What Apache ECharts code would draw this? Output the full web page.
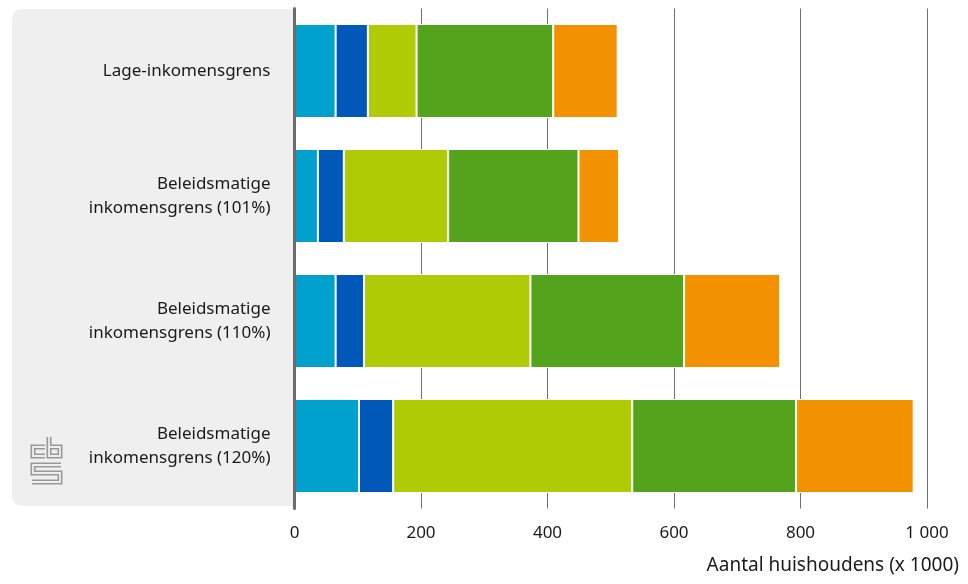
<!DOCTYPE html>
<html>
<head>
<meta charset="utf-8">
<script src="https://cdn.jsdelivr.net/npm/echarts@6/dist/echarts.min.js"></script>
<style>html,body{margin:0;padding:0;background:#fff}#c{width:968px;height:584px}</style>
</head>
<body>
<div id="c"></div>
<script>
const categories = ['Lage-inkomensgrens', 'Beleidsmatige\ninkomensgrens (101%)', 'Beleidsmatige\ninkomensgrens (110%)', 'Beleidsmatige\ninkomensgrens (120%)'];
const seriesA = [65, 37, 65, 102];
const seriesB = [51, 41, 45, 54];
const seriesC = [77, 165, 263, 378];
const seriesD = [216, 206, 243, 259];
const seriesE = [102, 64, 152, 186];
const xTicks = [0, 200, 400, 600, 800, 1000];
const axisTitle = 'Aantal huishoudens (x 1000)';

const colors = ['#00A1CD', '#0058B8', '#AFCB05', '#53A31D', '#F39200'];
const font = 'Noto Sans';
const chart = echarts.init(document.getElementById('c'), null, {renderer: 'canvas'});
const mk = (name, data, i) => ({
  name, type: 'bar', stack: 'all', data, barWidth: 94,
  itemStyle: {color: colors[i], borderColor: '#fff', borderWidth: 1},
  emphasis: {disabled: true}
});
const logoPaths = [
  [[45,447],[33,447],[33,456],[45,456]],
  [[49,437],[49,456],[60,456],[60,447],[49,447]],
  [[61,465],[33,465],[33,473],[60,473],[60,482],[32,482]]
];
const logo = [];
logoPaths.forEach(p => logo.push({type: 'polyline', shape: {points: p}, style: {stroke: '#999', lineWidth: 5, fill: null}}));
logoPaths.forEach(p => logo.push({type: 'polyline', shape: {points: p}, style: {stroke: '#EFEFEF', lineWidth: 1.8, fill: null}}));
chart.setOption({
  animation: false,
  backgroundColor: '#fff',
  textStyle: {fontFamily: font},
  graphic: [
    {type: 'rect', z: -10, shape: {x: 12, y: 9, width: 282, height: 497, r: [10, 0, 0, 10]}, style: {fill: '#EFEFEF'}},
    {type: 'group', z: -5, children: logo},
    {type: 'text', right: 9, top: 556, style: {text: axisTitle, fill: '#1a1a1a', font: '19px "' + font + '"', textAlign: 'right'}}
  ],
  grid: {left: 294.5, right: 41, top: 8.5, bottom: 75.5},
  xAxis: {
    type: 'value', min: xTicks[0], max: xTicks[xTicks.length - 1], interval: 200,
    axisLine: {show: false}, axisTick: {show: false},
    splitLine: {show: true, lineStyle: {color: '#707070', width: 1}},
    axisLabel: {color: '#1a1a1a', fontSize: 17, margin: 16, fontFamily: font,
      formatter: v => String(v).replace(/\B(?=(\d{3})+(?!\d))/g, ' ')}
  },
  yAxis: {
    type: 'category', data: categories, inverse: true, z: 5,
    axisLine: {show: true, lineStyle: {color: '#6b6b6b', width: 3}},
    axisTick: {show: false},
    axisLabel: {color: '#1a1a1a', fontSize: 17, margin: 24, lineHeight: 24, align: 'right', fontFamily: font}
  },
  series: [
    mk('A', seriesA, 0), mk('B', seriesB, 1), mk('C', seriesC, 2), mk('D', seriesD, 3), mk('E', seriesE, 4)
  ]
});
</script>
</body>
</html>
